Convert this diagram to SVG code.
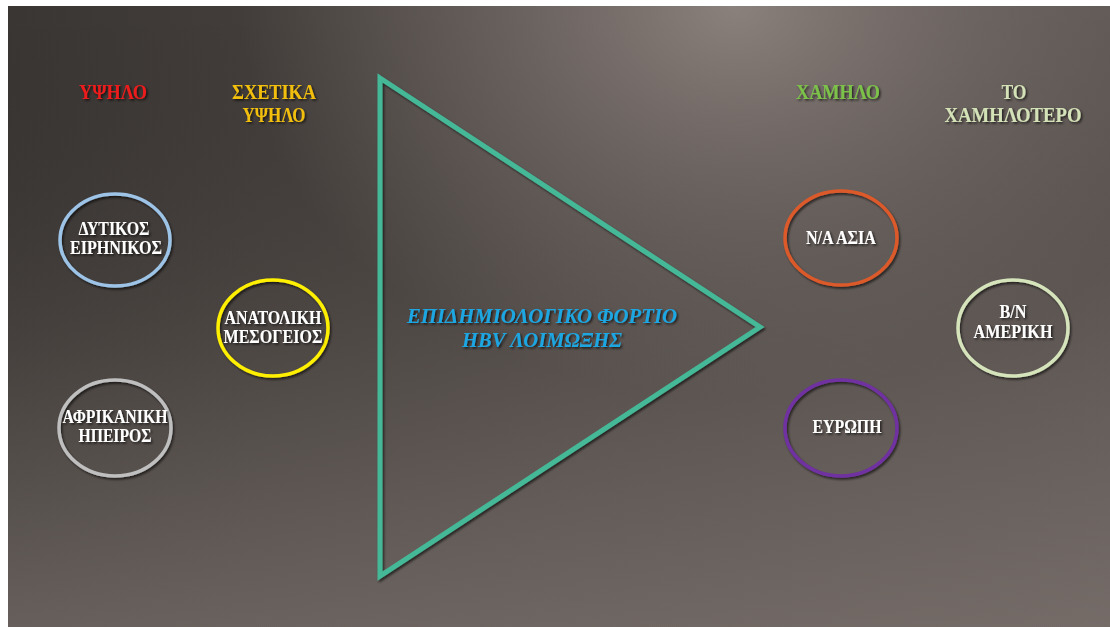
<svg xmlns="http://www.w3.org/2000/svg" width="1110" height="627" viewBox="0 0 1110 627">
  <defs>
    <linearGradient id="bgH" x1="0" y1="0" x2="1" y2="0">
      <stop offset="0" stop-color="#3a3633"/>
      <stop offset="0.5" stop-color="#4c4643"/>
      <stop offset="1" stop-color="#5a5350"/>
    </linearGradient>
    <linearGradient id="bgV" x1="0" y1="0" x2="0" y2="1">
      <stop offset="0" stop-color="#000" stop-opacity="0"/>
      <stop offset="0.55" stop-color="#8a807b" stop-opacity="0.15"/>
      <stop offset="1" stop-color="#8a807b" stop-opacity="0.55"/>
    </linearGradient>
    <radialGradient id="glow" cx="0.66" cy="0" r="0.45" gradientTransform="translate(0.66 0) scale(1 1.4) translate(-0.66 0)">
      <stop offset="0" stop-color="#8a807c" stop-opacity="1"/>
      <stop offset="0.6" stop-color="#7a716d" stop-opacity="0.45"/>
      <stop offset="1" stop-color="#7a716d" stop-opacity="0"/>
    </radialGradient>
    <filter id="sh" x="-20%" y="-20%" width="140%" height="140%">
      <feDropShadow dx="1.5" dy="2" stdDeviation="1.2" flood-color="#000" flood-opacity="0.6"/>
    </filter>
    <filter id="tsh" x="-10%" y="-30%" width="120%" height="160%">
      <feDropShadow dx="1.5" dy="1.5" stdDeviation="1" flood-color="#000" flood-opacity="0.7"/>
    </filter>
    <style>
      .t { font-family: "Liberation Serif", "DejaVu Serif", serif; font-weight: bold; text-anchor: middle; filter: url(#tsh); }
      .h { font-size: 21px; }
      .n { font-size: 18px; fill: #ffffff; }
      .c { font-size: 20px; fill: #1fa6e2; font-style: italic; }
      .e { fill: none; stroke-width: 3.5; filter: url(#sh); }
    </style>
  </defs>

  <rect x="0" y="0" width="1110" height="627" fill="#ffffff"/>
  <rect x="8" y="6" width="1102" height="621" fill="url(#bgH)"/>
  <rect x="8" y="6" width="1102" height="621" fill="url(#bgV)"/>
  <rect x="8" y="6" width="1102" height="621" fill="url(#glow)"/>

  <g id="headers">
    <text class="t h" x="113" y="99" fill="#ec1c1c" textLength="68" lengthAdjust="spacingAndGlyphs">ΥΨΗΛΟ</text>
    <text class="t h" x="274" y="99" fill="#f2bf0f" textLength="84" lengthAdjust="spacingAndGlyphs">ΣΧΕΤΙΚΑ</text>
    <text class="t h" x="274" y="122" fill="#f2bf0f" textLength="63" lengthAdjust="spacingAndGlyphs">ΥΨΗΛΟ</text>
    <text class="t h" x="838" y="99" fill="#7cc24a" textLength="84" lengthAdjust="spacingAndGlyphs">ΧΑΜΗΛΟ</text>
    <text class="t h" x="1014" y="99" fill="#d4e2b8" textLength="25" lengthAdjust="spacingAndGlyphs">ΤΟ</text>
    <text class="t h" x="1013" y="122" fill="#d4e2b8" textLength="137" lengthAdjust="spacingAndGlyphs">ΧΑΜΗΛΟΤΕΡΟ</text>
  </g>

  <g id="connectors"></g>

  <g id="triangle">
    <polygon points="380,78 760,327 380,576" fill="none" stroke="#45b898" stroke-width="5" stroke-linejoin="miter" filter="url(#sh)"/>
    <text class="t c" x="542" y="323" textLength="270" lengthAdjust="spacingAndGlyphs">ΕΠΙΔΗΜΙΟΛΟΓΙΚΟ ΦΟΡΤΙΟ</text>
    <text class="t c" x="542" y="347" textLength="160" lengthAdjust="spacingAndGlyphs">ΗΒV ΛΟΙΜΩΞΗΣ</text>
  </g>

  <g id="node-dytikos">
    <ellipse class="e" cx="115" cy="240" rx="55" ry="46" stroke="#9dc3e6"/>
    <text class="t n" x="114" y="235" textLength="71" lengthAdjust="spacingAndGlyphs">ΔΥΤΙΚΟΣ</text>
    <text class="t n" x="116" y="254" textLength="92" lengthAdjust="spacingAndGlyphs">ΕΙΡΗΝΙΚΟΣ</text>
  </g>

  <g id="node-anatoliki">
    <ellipse class="e" cx="273" cy="328" rx="55" ry="48" stroke="#ffef00"/>
    <text class="t n" x="273" y="324" textLength="97" lengthAdjust="spacingAndGlyphs">ΑΝΑΤΟΛΙΚΗ</text>
    <text class="t n" x="273" y="343" textLength="99" lengthAdjust="spacingAndGlyphs">ΜΕΣΟΓΕΙΟΣ</text>
  </g>

  <g id="node-afrikaniki">
    <ellipse class="e" cx="115" cy="428" rx="56" ry="48" stroke="#bfbfbf"/>
    <text class="t n" x="115" y="423" textLength="105" lengthAdjust="spacingAndGlyphs">ΑΦΡΙΚΑΝΙΚΗ</text>
    <text class="t n" x="115" y="442" textLength="73" lengthAdjust="spacingAndGlyphs">ΗΠΕΙΡΟΣ</text>
  </g>

  <g id="node-na-asia">
    <ellipse class="e" cx="841" cy="238" rx="56" ry="47" stroke="#dc5a2c"/>
    <text class="t n" x="841" y="244" textLength="70" lengthAdjust="spacingAndGlyphs">Ν/Α ΑΣΙΑ</text>
  </g>

  <g id="node-evropi">
    <ellipse class="e" cx="841" cy="428" rx="56" ry="48" stroke="#7030a0"/>
    <text class="t n" x="847" y="433" textLength="69" lengthAdjust="spacingAndGlyphs">ΕΥΡΩΠΗ</text>
  </g>

  <g id="node-vn-ameriki">
    <ellipse class="e" cx="1013" cy="328" rx="55" ry="48" stroke="#d6e4bc"/>
    <text class="t n" x="1013" y="318" textLength="27" lengthAdjust="spacingAndGlyphs">Β/Ν</text>
    <text class="t n" x="1013" y="338" textLength="79" lengthAdjust="spacingAndGlyphs">ΑΜΕΡΙΚΗ</text>
  </g>
</svg>
